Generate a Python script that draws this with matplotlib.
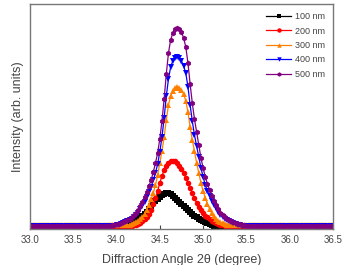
import numpy as np
import matplotlib
matplotlib.use("Agg")
import matplotlib.pyplot as plt

plt.rcParams['font.family'] = ['Liberation Sans', 'DejaVu Sans']

# scan grid 33.0 - 36.5 deg, step 0.025
two_theta = np.round(np.arange(33.0, 36.5 + 1e-9, 0.025), 3)

labels = ['100 nm', '200 nm', '300 nm', '400 nm', '500 nm']

# intensities (arb. units), left tail 33.000-33.875 / peak 33.900-35.500 / right tail 35.525-36.500
i_100 = ([1.5] * 36 +
         [1.5, 1.5, 2, 2, 2, 2, 2.5, 3, 3, 4, 4, 5, 6, 7, 9, 11, 13, 15, 17, 20,
          23, 26, 28, 30, 32, 34, 35, 36, 36, 35, 33, 31, 29, 27, 25, 23, 21, 19, 17, 15,
          13, 12, 10, 9, 8, 7, 6, 5, 4, 3, 3, 2.5, 2, 2, 2, 1.5, 1.5, 1.5, 1.5, 1.5,
          1.5, 1.5, 1.5, 1.5, 1.5] +
         [1.5] * 40)
i_200 = ([3] * 36 +
         [3, 3, 3, 3, 3, 3, 3, 3, 3, 3, 3, 3, 4, 4, 5, 6, 8, 10, 12, 15,
          19, 25, 31, 38, 46, 53, 59, 63, 66, 68, 68, 68, 66, 63, 60, 56, 51, 46, 41, 36,
          31, 26, 22, 19, 16, 13, 12, 10, 8, 7, 6, 5, 4, 4, 3, 3, 3, 3, 3, 3,
          3, 3, 3, 3, 3] +
         [3] * 40)
i_300 = ([4] * 36 +
         [4, 4, 4, 4, 4, 4, 4, 4, 4, 4, 4, 5, 6, 7, 8, 10, 12, 15, 19, 24,
          30, 36, 44, 54, 66, 78, 92, 109, 124, 133, 138, 141, 142, 141, 139, 135, 128, 117, 102, 89,
          78, 66, 56, 46, 38, 31, 25, 20, 16, 13, 10, 8, 7, 6, 5, 4, 4, 4, 4, 4,
          4, 4, 4, 4, 4] +
         [4] * 40)
i_400 = ([3] * 36 +
         [3, 3, 3, 3, 4, 4, 5, 6, 7, 8, 9, 10, 12, 14, 16, 20, 23, 27, 32, 37,
          42, 49, 56, 65, 77, 92, 111, 133, 150, 162, 168, 171, 172, 171, 168, 163, 156, 142, 124, 108,
          94, 83, 72, 61, 52, 44, 38, 33, 28, 24, 21, 17, 14, 12, 10, 9, 8, 7, 6, 5,
          4, 4, 3, 3, 3] +
         [3] * 40)
i_500 = ([3] * 36 +
         [3, 3, 4, 4, 5, 5, 6, 7, 8, 9, 10, 12, 14, 16, 19, 23, 27, 32, 37, 43,
          49, 57, 66, 76, 90, 108, 130, 155, 176, 189, 196, 200, 201, 200, 197, 191, 182, 166, 145, 126,
          110, 97, 84, 71, 61, 52, 45, 39, 33, 28, 24, 20, 16, 14, 12, 10, 9, 8, 7, 6,
          5, 5, 4, 4, 3] +
         [3] * 40)

series = [i_100, i_200, i_300, i_400, i_500]
colors = ['black', '#ff0000', '#ff8000', '#0000ff', '#800080']
markers = ['s', 'o', '^', 'v', 'h']

fig = plt.figure(figsize=(3.44, 2.65), dpi=100)
ax = fig.add_axes([0.087, 0.136, 0.881, 0.849])

for y, c, m, lab in zip(series, colors, markers, labels):
    ax.plot(two_theta, y, color=c, marker=m, markersize=4, linewidth=0.9,
            markeredgewidth=0, label=lab)

ax.set_xlim(33.0, 36.5)
ax.set_ylim(0, 225)
ax.set_xticks(np.arange(33.0, 36.51, 0.5))
ax.set_xticklabels(['%.1f' % v for v in np.arange(33.0, 36.51, 0.5)])
ax.set_yticks([])
ax.tick_params(axis='x', direction='in', length=3, width=0.8, labelsize=7,
               labelcolor='#444444', color='#444444', pad=4)

for s in ax.spines.values():
    s.set_color('#777777')
    s.set_linewidth(1.0)

ax.set_xlabel('Diffraction Angle 2θ (degree)', fontsize=9, color='#444444', labelpad=7)
ax.set_ylabel('Intensity (arb. units)', fontsize=9, color='#444444', labelpad=4)

leg = ax.legend(loc='upper right', frameon=False, fontsize=6.5, handlelength=2.8,
                handletextpad=0.4, labelspacing=0.6, borderaxespad=0.5,
                markerscale=0.8)
for t in leg.get_texts():
    t.set_color('#444444')

fig.savefig('out.png', dpi=100)
